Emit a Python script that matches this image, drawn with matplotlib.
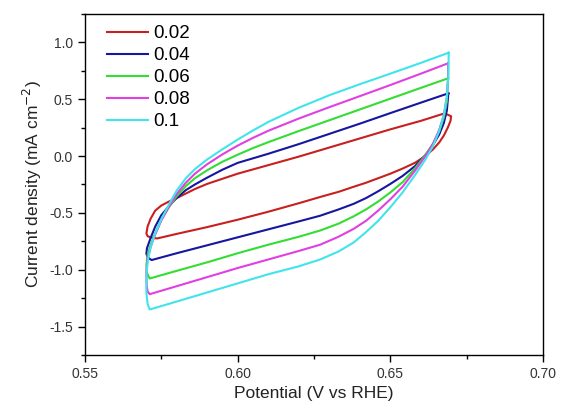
import matplotlib
matplotlib.use("Agg")
import matplotlib.pyplot as plt
from matplotlib.ticker import MultipleLocator

plt.rcParams['font.family'] = ['Liberation Sans', 'DejaVu Sans']

scan_rates = ['0.02', '0.04', '0.06', '0.08', '0.1']
colors = ['#C8201E', '#16169E', '#33DD33', '#E040E0', '#40E4EA']

# top branch (upper vertex -> lower vertex)
top_x_002 = [0.6678, 0.660, 0.650, 0.640, 0.630, 0.620, 0.610, 0.600, 0.595, 0.590, 0.586,
             0.583, 0.580, 0.5775, 0.575, 0.573, 0.5715, 0.5705, 0.5701, 0.5705, 0.5715]
top_y_002 = [0.376, 0.310, 0.235, 0.155, 0.075, -0.005, -0.080, -0.155, -0.200, -0.245, -0.290,
             -0.330, -0.370, -0.400, -0.435, -0.480, -0.550, -0.620, -0.680, -0.705, -0.715]
# bottom branch (lower vertex -> upper vertex)
bot_x_002 = [0.5736, 0.580, 0.590, 0.600, 0.610, 0.620, 0.627, 0.633, 0.638, 0.642, 0.646,
             0.650, 0.654, 0.658, 0.6615, 0.664, 0.666, 0.6675, 0.6688, 0.6697, 0.6699, 0.6678]
bot_y_002 = [-0.725, -0.685, -0.625, -0.560, -0.490, -0.415, -0.360, -0.315, -0.270, -0.235, -0.195,
             -0.155, -0.110, -0.060, 0.000, 0.060, 0.120, 0.180, 0.250, 0.310, 0.350, 0.376]

top_x_004 = [0.6690, 0.660, 0.650, 0.640, 0.630, 0.620, 0.610, 0.600, 0.595, 0.590, 0.586,
             0.583, 0.580, 0.5775, 0.575, 0.573, 0.5715, 0.5703, 0.5701, 0.5705]
top_y_004 = [0.552, 0.470, 0.378, 0.285, 0.195, 0.105, 0.020, -0.060, -0.120, -0.190, -0.250,
             -0.300, -0.370, -0.440, -0.520, -0.620, -0.720, -0.810, -0.860, -0.890]
bot_x_004 = [0.5718, 0.580, 0.590, 0.600, 0.610, 0.620, 0.627, 0.633, 0.638, 0.642, 0.646,
             0.650, 0.654, 0.658, 0.6615, 0.664, 0.666, 0.6675, 0.6685, 0.6690]
bot_y_004 = [-0.915, -0.855, -0.785, -0.715, -0.645, -0.575, -0.525, -0.470, -0.420, -0.370, -0.310,
             -0.245, -0.175, -0.090, 0.010, 0.100, 0.190, 0.290, 0.400, 0.552]

top_x_006 = [0.6689, 0.660, 0.650, 0.640, 0.630, 0.620, 0.610, 0.605, 0.600, 0.595, 0.590, 0.586,
             0.583, 0.580, 0.5775, 0.575, 0.573, 0.5715, 0.5705, 0.5701, 0.5703]
top_y_006 = [0.684, 0.600, 0.505, 0.410, 0.315, 0.220, 0.122, 0.070, 0.012, -0.050, -0.125, -0.195,
             -0.265, -0.355, -0.450, -0.560, -0.680, -0.780, -0.870, -0.960, -1.030]
bot_x_006 = [0.5712, 0.580, 0.590, 0.600, 0.610, 0.620, 0.627, 0.633, 0.638, 0.642, 0.646,
             0.650, 0.654, 0.658, 0.6615, 0.664, 0.666, 0.6675, 0.6685, 0.6689]
bot_y_006 = [-1.077, -1.010, -0.935, -0.855, -0.780, -0.710, -0.655, -0.595, -0.530, -0.470, -0.400,
             -0.320, -0.230, -0.110, 0.010, 0.110, 0.220, 0.340, 0.480, 0.684]

top_x_008 = [0.6689, 0.660, 0.650, 0.640, 0.630, 0.620, 0.610, 0.605, 0.600, 0.595, 0.590, 0.586,
             0.583, 0.580, 0.5775, 0.575, 0.573, 0.5715, 0.5705, 0.5701, 0.5702, 0.5705]
top_y_008 = [0.816, 0.725, 0.625, 0.527, 0.430, 0.330, 0.222, 0.160, 0.092, 0.015, -0.072, -0.155,
             -0.235, -0.335, -0.445, -0.565, -0.690, -0.800, -0.900, -1.020, -1.140, -1.190]
bot_x_008 = [0.5712, 0.580, 0.590, 0.600, 0.610, 0.620, 0.627, 0.633, 0.638, 0.642, 0.646,
             0.650, 0.654, 0.658, 0.6615, 0.664, 0.666, 0.6675, 0.6685, 0.6689, 0.6689]
bot_y_008 = [-1.215, -1.145, -1.065, -0.985, -0.910, -0.835, -0.780, -0.710, -0.640, -0.570, -0.480,
             -0.380, -0.270, -0.130, 0.000, 0.110, 0.230, 0.360, 0.520, 0.680, 0.816]

top_x_01 = [0.6691, 0.660, 0.650, 0.640, 0.630, 0.620, 0.610, 0.605, 0.600, 0.595, 0.590, 0.586,
            0.583, 0.580, 0.5775, 0.575, 0.573, 0.5715, 0.5705, 0.5701, 0.5701, 0.5705]
top_y_01 = [0.909, 0.820, 0.725, 0.632, 0.535, 0.425, 0.300, 0.225, 0.145, 0.060, -0.030, -0.115,
            -0.195, -0.305, -0.425, -0.555, -0.680, -0.800, -0.930, -1.060, -1.200, -1.300]
bot_x_01 = [0.5712, 0.580, 0.590, 0.600, 0.610, 0.620, 0.627, 0.633, 0.638, 0.642, 0.646,
            0.650, 0.654, 0.658, 0.6615, 0.664, 0.666, 0.6675, 0.6685, 0.6690, 0.6691]
bot_y_01 = [-1.350, -1.280, -1.200, -1.120, -1.040, -0.970, -0.910, -0.840, -0.760, -0.670, -0.570,
            -0.450, -0.320, -0.170, -0.030, 0.090, 0.220, 0.360, 0.520, 0.700, 0.909]

tops = [(top_x_002, top_y_002), (top_x_004, top_y_004), (top_x_006, top_y_006),
        (top_x_008, top_y_008), (top_x_01, top_y_01)]
bots = [(bot_x_002, bot_y_002), (bot_x_004, bot_y_004), (bot_x_006, bot_y_006),
        (bot_x_008, bot_y_008), (bot_x_01, bot_y_01)]

fig = plt.figure(figsize=(5.61, 4.11), dpi=100)
ax = fig.add_axes([0.1515, 0.1363, 0.8165, 0.8297])

for (tx, ty), (bx, by), c, lab in zip(tops, bots, colors, scan_rates):
    ax.plot(tx + bx, ty + by, color=c, lw=1.5, label=lab, solid_joinstyle='round')

ax.set_xlim(0.55, 0.70)
ax.set_ylim(-1.75, 1.25)
ax.xaxis.set_minor_locator(MultipleLocator(0.025))
ax.yaxis.set_minor_locator(MultipleLocator(0.25))
ax.set_xticks([0.55, 0.60, 0.65, 0.70])
ax.set_xticklabels(['0.55', '0.60', '0.65', '0.70'])
ax.set_yticks([-1.5, -1.0, -0.5, 0.0, 0.5, 1.0])
ax.set_yticklabels(['-1.5', '-1.0', '-0.5', '0.0', '0.5', '1.0'])
ax.tick_params(which='major', direction='out', length=5, width=1, labelsize=10,
               labelcolor='#333333', top=False, right=False)
ax.tick_params(which='minor', direction='out', length=3, width=1, top=False, right=False)
for s in ax.spines.values():
    s.set_linewidth(1.0)

ax.set_xlabel('Potential (V vs RHE)', fontsize=12.5, color='#222222', labelpad=4)
ax.set_ylabel('Current density (mA cm$^{-2}$)', fontsize=12.5, color='#222222', labelpad=4)

ax.legend(loc='upper left', frameon=False, fontsize=13.5, handlelength=2.2,
          handletextpad=0.25, labelspacing=0.26, borderaxespad=0, borderpad=0,
          bbox_to_anchor=(0.048, 0.967))

fig.savefig('out.png', dpi=100)
